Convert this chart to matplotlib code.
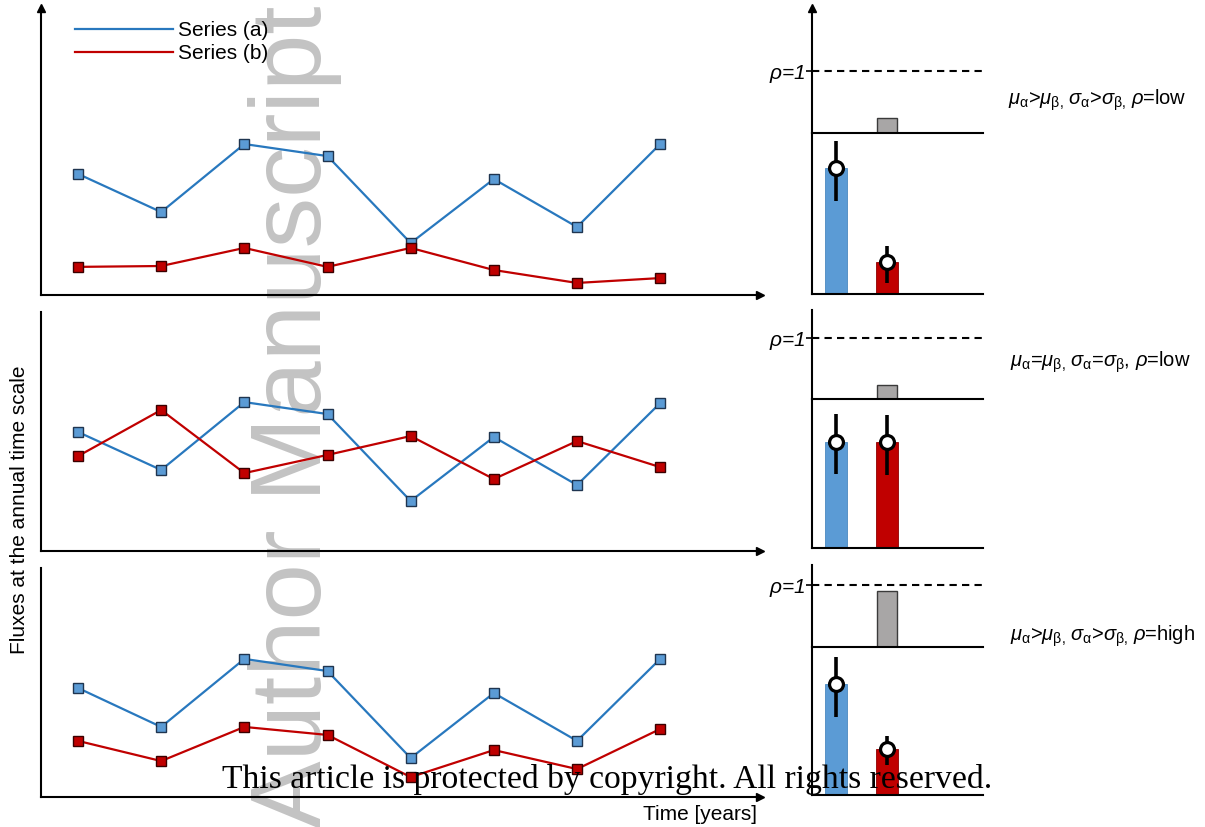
import matplotlib
matplotlib.use("Agg")
import matplotlib.pyplot as plt
from matplotlib.lines import Line2D
import numpy as np

plt.rcParams['font.family'] = ['Liberation Sans', 'DejaVu Sans']
plt.rcParams['mathtext.fontset'] = 'custom'
plt.rcParams['mathtext.rm'] = 'Liberation Sans'
plt.rcParams['mathtext.it'] = 'Liberation Sans:italic'
plt.rcParams['mathtext.bf'] = 'Liberation Sans:bold'

# ---------------- data ----------------
years = [1, 2, 3, 4, 5, 6, 7, 8]

row1_a = [4.22, 2.89, 5.26, 4.84, 1.81, 4.04, 2.37, 5.26]
row1_b = [0.98, 1.01, 1.64, 0.98, 1.64, 0.87, 0.42, 0.59]
row2_a = [4.98, 3.39, 6.23, 5.73, 2.09, 4.77, 2.76, 6.19]
row2_b = [3.97, 5.90, 3.26, 4.02, 4.81, 3.01, 4.60, 3.51]
row3_a = [4.76, 3.06, 6.03, 5.50, 1.70, 4.54, 2.45, 6.03]
row3_b = [2.45, 1.57, 3.06, 2.71, 0.87, 2.05, 1.22, 2.97]

series_labels = ["Series (a)", "Series (b)"]

# bar panels: mean, lower and upper bound of the error bar
mean_a = [0.78, 0.71, 0.75]
low_a = [0.58, 0.50, 0.53]
high_a = [0.95, 0.90, 0.93]
mean_b = [0.20, 0.71, 0.31]
low_b = [0.07, 0.49, 0.20]
high_b = [0.30, 0.89, 0.40]

rho_values = [0.24, 0.23, 0.90]
rho_axis_top = [2.02, 1.46, 1.32]

annotations = [
    r'$\mu_{\mathrm{\alpha}}$>$\mu_{\mathrm{\beta,}}$$\,\sigma_{\mathrm{\alpha}}$>$\sigma_{\mathrm{\beta,}}$$\,\rho$=low',
    r'$\mu_{\mathrm{\alpha}}$=$\mu_{\mathrm{\beta,}}$$\,\sigma_{\mathrm{\alpha}}$=$\sigma_{\mathrm{\beta}}$, $\rho$=low',
    r'$\mu_{\mathrm{\alpha}}$>$\mu_{\mathrm{\beta,}}$$\,\sigma_{\mathrm{\alpha}}$>$\sigma_{\mathrm{\beta,}}$$\,\rho$=high',
]

# ---------------- styles ----------------
W, H = 1205, 827
C_LINE_A = '#2878be'
C_FILL_A = '#5b9bd5'
C_EDGE_A = '#1f3550'
C_LINE_B = '#c00000'
C_FILL_B = '#c00000'
C_EDGE_B = '#3a0000'
C_GRAY = '#a8a6a6'
SP_LW = 1.5

fig = plt.figure(figsize=(W / 100, H / 100), dpi=100)


def px(l, t, r, b):
    return [l / W, 1 - b / H, (r - l) / W, (b - t) / H]


left_boxes = [(41, 8, 760, 295), (41, 312, 760, 551), (41, 568, 760, 797)]
rho_boxes = [(812, 8, 983, 133), (812, 310, 983, 399), (812, 565, 983, 647)]
bar_boxes = [(812, 133, 983, 294), (812, 399, 983, 548), (812, 647, 983, 795)]
text_pos = [(1008, 100), (1010, 362), (1010, 636)]

rows_a = [row1_a, row2_a, row3_a]
rows_b = [row1_b, row2_b, row3_b]

for i in range(3):
    # ---- line panel ----
    ax = fig.add_axes(px(*left_boxes[i]))
    ax.patch.set_visible(False)
    ax.plot(years, rows_a[i], color=C_LINE_A, lw=1.6, marker='s', ms=7.5,
            mfc=C_FILL_A, mec=C_EDGE_A, mew=1.0, zorder=3)
    ax.plot(years, rows_b[i], color=C_LINE_B, lw=1.6, marker='s', ms=7.5,
            mfc=C_FILL_B, mec=C_EDGE_B, mew=1.0, zorder=3)
    ax.set_xlim(0.555, 9.20)
    ax.set_ylim(0, 10)
    for s in ['top', 'right']:
        ax.spines[s].set_visible(False)
    for s in ['left', 'bottom']:
        ax.spines[s].set_linewidth(SP_LW)
    ax.set_xticks([])
    ax.set_yticks([])
    ax.plot(1, 0, '>k', ms=6, transform=ax.transAxes, clip_on=False)
    if i == 0:
        ax.plot(0, 1, '^k', ms=6, transform=ax.transAxes, clip_on=False)
        handles = [Line2D([], [], color=C_LINE_A, lw=1.6),
                   Line2D([], [], color=C_LINE_B, lw=1.6)]
        ax.legend(handles, series_labels, loc='upper left',
                  bbox_to_anchor=((75 - 41) / 719, (295 - 21) / 287),
                  frameon=False, fontsize=15, handlelength=4.7,
                  handletextpad=0.25, labelspacing=0.2, borderpad=0,
                  borderaxespad=0)

    # ---- rho panel ----
    axr = fig.add_axes(px(*rho_boxes[i]))
    axr.patch.set_visible(False)
    axr.bar([1], [rho_values[i]], width=0.38, color=C_GRAY, edgecolor='#3a3a3a',
            lw=1.0, zorder=2)
    axr.axhline(1, color='black', lw=1.5, ls=(0, (3.5, 2.5)))
    axr.set_xlim(-0.47, 2.88)
    axr.set_ylim(0, rho_axis_top[i])
    for s in ['top', 'right']:
        axr.spines[s].set_visible(False)
    for s in ['left', 'bottom']:
        axr.spines[s].set_linewidth(SP_LW)
    axr.set_xticks([])
    axr.set_yticks([1])
    axr.set_yticklabels([r'$\rho$=1'], fontsize=15, fontstyle='italic')
    axr.tick_params(axis='y', direction='out', length=4, width=1.2, pad=1)
    if i == 0:
        axr.plot(0, 1, '^k', ms=6, transform=axr.transAxes, clip_on=False)

    # ---- bar panel ----
    axb = fig.add_axes(px(*bar_boxes[i]))
    axb.patch.set_visible(False)
    axb.bar([0], [mean_a[i]], width=0.43, color=C_FILL_A, edgecolor='#4a88c0',
            lw=0.6, zorder=2)
    axb.bar([1], [mean_b[i]], width=0.43, color=C_FILL_B, edgecolor='#900000',
            lw=0.6, zorder=2)
    for xx, m, lo, hi in [(0, mean_a[i], low_a[i], high_a[i]),
                          (1, mean_b[i], low_b[i], high_b[i])]:
        axb.errorbar([xx], [m], yerr=[[m - lo], [hi - m]], fmt='o', ms=10,
                     mfc='white', mec='black', mew=2.3, ecolor='black',
                     elinewidth=2.6, capsize=0, zorder=4)
    axb.set_xlim(-0.47, 2.88)
    axb.set_ylim(0, 1)
    for s in ['top', 'right']:
        axb.spines[s].set_visible(False)
    for s in ['left', 'bottom']:
        axb.spines[s].set_linewidth(SP_LW)
    axb.set_xticks([])
    axb.set_yticks([])

    # ---- annotation ----
    tx, ty = text_pos[i]
    fig.text(tx / W, 1 - ty / H, annotations[i], fontsize=14.5, ha='left',
             va='center')

# axis titles
fig.text(20 / W, 1 - 510 / H, 'Fluxes at the annual time scale', rotation=90,
         fontsize=15, ha='center', va='center')
fig.text(700 / W, 1 - 815 / H, 'Time [years]', fontsize=15, ha='center',
         va='center')

# watermark
fig.text(321 / W, 1 - 828 / H, 'Author Manuscript', rotation=90,
         rotation_mode='anchor', ha='left', va='baseline', fontsize=73,
         color='#c3c3c3', zorder=-5)

# copyright notice
fig.text(222 / W, 1 - 788 / H,
         'This article is protected by copyright. All rights reserved.',
         family=['Liberation Serif', 'DejaVu Serif'], fontsize=24.25,
         color='black', ha='left', va='baseline', zorder=20)

fig.savefig('out.png', dpi=100)
